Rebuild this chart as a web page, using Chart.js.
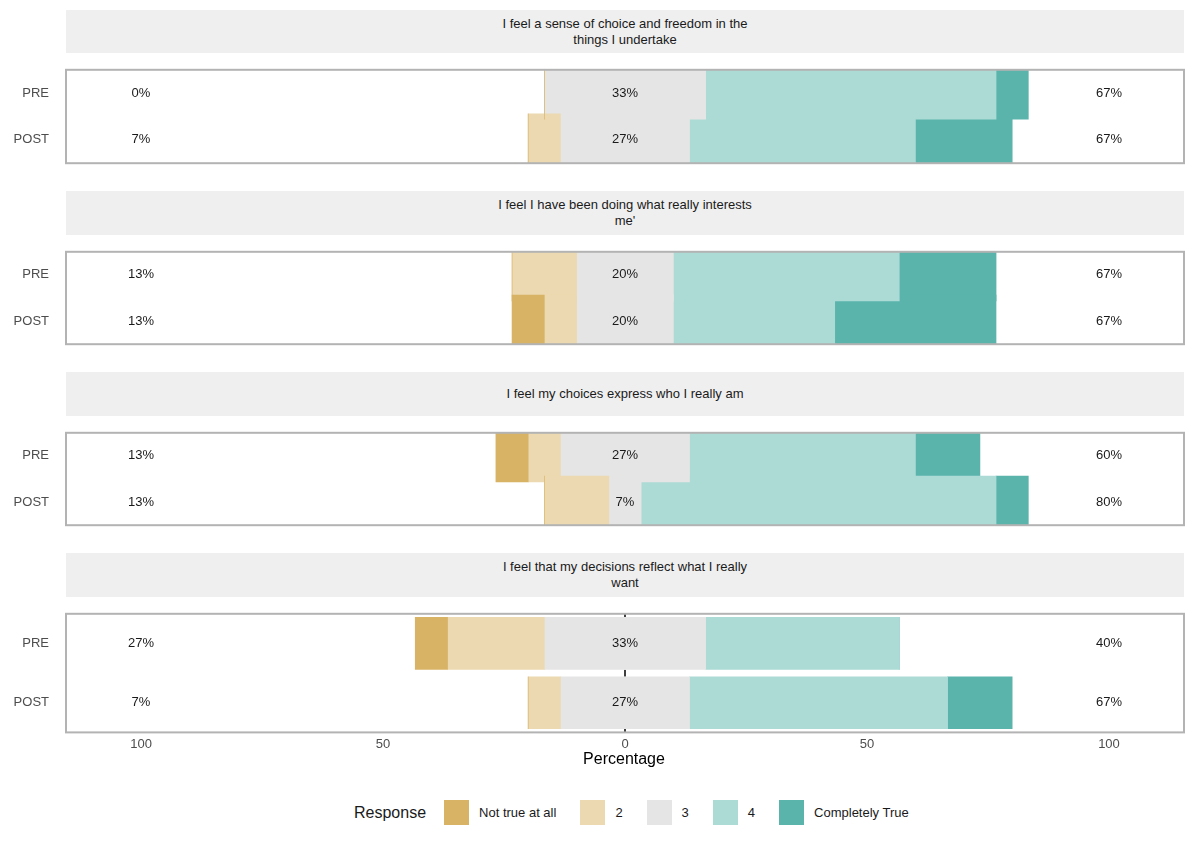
<!DOCTYPE html>
<html><head><meta charset="utf-8">
<script src="https://cdn.jsdelivr.net/npm/chart.js@4"></script>
<style>
body{margin:0;background:#fff;font-family:"Liberation Sans",Arial,sans-serif;width:1200px;height:842px;position:relative;overflow:hidden}
.strip{position:absolute;left:66px;width:1118px;background:#efefef;color:#1a1a1a;font-size:13px;line-height:16px;text-align:center;display:flex;align-items:center;justify-content:center}
.panel{position:absolute;left:0}
#xtitle{position:absolute;top:750px;left:0;width:1248px;text-align:center;font-size:16px;color:#000}
#legend{position:absolute;top:800px;left:354px;display:flex;align-items:center;font-size:13px;color:#1a1a1a}
#legend .ttl{font-size:16px;margin-right:18px}
#legend .key{width:25px;height:25px;margin-right:10px}
#legend .lab{margin-right:24px}
</style></head><body>
<div id="root"></div>
<div id="xtitle">Percentage</div>
<div id="legend"><span class="ttl">Response</span></div>
<script>
// Likert responses, n = 15, values in percent; order: item1 PRE, item1 POST, item2 PRE, ...
const items = [
  ['I feel a sense of choice and freedom in the', 'things I undertake'],
  ['I feel I have been doing what really interests', "me'"],
  ['I feel my choices express who I really am'],
  ['I feel that my decisions reflect what I really', 'want'],
];
const waves = ['PRE', 'POST'];
const responses = ['Not true at all', '2', '3', '4', 'Completely True'];
const colors = ['#d8b365', '#ecd9b1', '#e5e5e5', '#acdad5', '#5ab4ac'];
const notTrue  = [0, 0,     0, 6.67,   6.67, 0,     6.67, 0];
const two      = [0, 6.67,  13.33, 6.67, 6.67, 13.33, 20, 6.67];
const three    = [33.33, 26.67, 20, 20,  26.67, 6.67, 33.33, 26.67];
const four     = [60, 46.67, 46.67, 33.33, 46.67, 73.33, 40, 53.33];
const complete = [6.67, 20,  20, 33.33,  13.33, 6.67, 0, 13.33];
const xTicks = [-100, -50, 0, 50, 100];

const series = [notTrue, two, three, four, complete];
const FONT = '"Liberation Sans", Arial, sans-serif';

// layout of each facet: strip top, strip height, panel top, panel height
const layout = [[10, 43, 53, 127], [191, 44, 235, 126], [372, 44, 416, 126], [553, 44, 597, 127]];

const panelPlugin = {
  id: 'panel',
  beforeDatasetsDraw(chart) {
    const {ctx, chartArea: a, scales: {x}} = chart;
    const px = x.getPixelForValue(0);
    ctx.save();
    ctx.strokeStyle = '#000'; ctx.lineWidth = 1.5; ctx.setLineDash([7, 7]);
    ctx.beginPath(); ctx.moveTo(px, a.top); ctx.lineTo(px, a.bottom); ctx.stroke();
    ctx.restore();
  },
  afterDatasetsDraw(chart, args, opts) {
    const {ctx, chartArea: a, scales: {x, y}} = chart;
    ctx.save();
    ctx.font = '13px ' + FONT; ctx.fillStyle = '#1a1a1a';
    ctx.textAlign = 'center'; ctx.textBaseline = 'middle';
    opts.rows.forEach((i, r) => {
      const py = y.getPixelForValue(r);
      const low = notTrue[i] + two[i], high = four[i] + complete[i];
      ctx.fillText(Math.round(low) + '%', x.getPixelForValue(-100), py);
      ctx.fillText(Math.round(three[i]) + '%', x.getPixelForValue(0), py);
      ctx.fillText(Math.round(high) + '%', x.getPixelForValue(100), py);
    });
    ctx.strokeStyle = '#b3b3b3'; ctx.lineWidth = 2;
    ctx.strokeRect(a.left, a.top, a.right - a.left, a.bottom - a.top);
    ctx.restore();
  }
};

const root = document.getElementById('root');
items.forEach((title, f) => {
  const [st, sh, pt, ph] = layout[f];
  const strip = document.createElement('div');
  strip.className = 'strip';
  strip.style.top = st + 'px'; strip.style.height = sh + 'px';
  strip.innerHTML = title.join('<br>');
  root.appendChild(strip);

  const last = f === items.length - 1;
  const h = ph + (last ? 32 : 0);
  const wrap = document.createElement('div');
  wrap.className = 'panel';
  wrap.style.top = pt + 'px';
  const cv = document.createElement('canvas');
  cv.width = 1200; cv.height = h;
  cv.style.width = '1200px'; cv.style.height = h + 'px';
  wrap.appendChild(cv); root.appendChild(wrap);

  const rows = [f * 2, f * 2 + 1];
  // floating bars: negatives start at -(notTrue+two+three/2)
  const datasets = responses.map((name, k) => ({
    label: name,
    backgroundColor: colors[k],
    borderWidth: 0,
    grouped: false,
    barThickness: 52,
    data: rows.map(i => {
      let start = -(notTrue[i] + two[i] + three[i] / 2);
      for (let j = 0; j < k; j++) start += series[j][i];
      return [start, start + series[k][i]];
    }),
  }));

  new Chart(cv, {
    type: 'bar',
    data: { labels: waves, datasets },
    plugins: [panelPlugin],
    options: {
      indexAxis: 'y',
      responsive: false,
      animation: false,
      layout: { padding: { right: 16, top: 0, bottom: 0 } },
      plugins: { legend: { display: false }, tooltip: { enabled: false }, panel: { rows } },
      scales: {
        x: {
          min: -115.5, max: 115.5,
          display: last,
          afterBuildTicks: s => { s.ticks = xTicks.map(v => ({ value: v })); },
          ticks: { color: '#4d4d4d', font: { size: 13, family: FONT }, padding: 4,
                   callback: v => Math.abs(v) },
          grid: { display: false, drawTicks: false },
          border: { display: false },
        },
        y: {
          afterFit: s => { s.width = 66; },
          ticks: { color: '#4d4d4d', font: { size: 13, family: FONT }, padding: 9 },
          grid: { display: false },
          border: { display: false },
        },
      },
    },
  });
});

const leg = document.getElementById('legend');
responses.forEach((name, k) => {
  leg.insertAdjacentHTML('beforeend',
    `<span class="key" style="background:${colors[k]}"></span><span class="lab">${name}</span>`);
});
</script>
</body></html>
